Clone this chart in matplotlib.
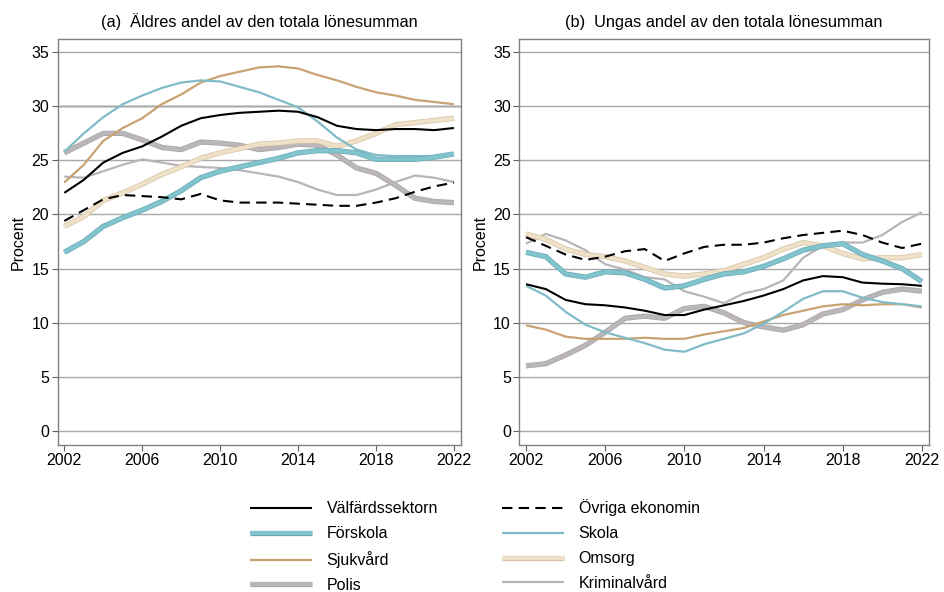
import numpy as np
import matplotlib
matplotlib.use("Agg")
import matplotlib.pyplot as plt
import matplotlib.patheffects as pe

plt.rcParams['font.family'] = ['Liberation Sans', 'DejaVu Sans']

years = list(range(2002, 2023))

# (a) older workers' share of total wage sum
a_valfard = [22.0, 23.2, 24.8, 25.7, 26.3, 27.2, 28.2, 28.9, 29.2, 29.4, 29.5,
             29.6, 29.5, 29.0, 28.2, 27.9, 27.8, 27.9, 27.9, 27.8, 28.0]
a_ovriga = [19.4, 20.4, 21.4, 21.8, 21.7, 21.6, 21.4, 21.9, 21.3, 21.1, 21.1,
            21.1, 21.0, 20.9, 20.8, 20.8, 21.1, 21.5, 22.1, 22.6, 22.95]
a_forskola = [16.5, 17.5, 18.9, 19.7, 20.4, 21.2, 22.2, 23.4, 24.0, 24.4, 24.8,
              25.2, 25.7, 25.9, 25.9, 25.7, 25.1, 25.1, 25.1, 25.3, 25.6]
a_skola = [25.8, 27.5, 29.0, 30.2, 31.0, 31.7, 32.2, 32.4, 32.3, 31.8, 31.3,
           30.6, 29.9, 28.6, 27.1, 26.0, 25.5, 25.4, 25.4, 25.4, 25.6]
a_sjukvard = [22.95, 24.6, 26.8, 28.0, 28.9, 30.2, 31.1, 32.2, 32.8, 33.2, 33.6,
              33.7, 33.5, 32.9, 32.4, 31.8, 31.3, 31.0, 30.6, 30.4, 30.2]
a_omsorg = [18.9, 19.8, 21.3, 22.0, 22.8, 23.7, 24.4, 25.2, 25.7, 26.1, 26.5,
            26.6, 26.8, 26.8, 26.3, 26.8, 27.5, 28.3, 28.5, 28.7, 28.9]
a_polis = [25.7, 26.6, 27.5, 27.5, 26.9, 26.2, 26.0, 26.7, 26.6, 26.4, 26.0,
           26.2, 26.5, 26.4, 25.5, 24.3, 23.8, 22.7, 21.5, 21.2, 21.1]
a_kriminal = [23.5, 23.4, 24.0, 24.6, 25.1, 24.8, 24.5, 24.4, 24.3, 24.1, 23.8,
              23.5, 23.0, 22.3, 21.8, 21.8, 22.3, 23.0, 23.6, 23.4, 23.0]

# (b) younger workers' share of total wage sum
b_valfard = [13.55, 13.1, 12.1, 11.7, 11.6, 11.4, 11.1, 10.7, 10.7, 11.2, 11.6,
             12.0, 12.5, 13.1, 13.9, 14.3, 14.2, 13.7, 13.6, 13.55, 13.4]
b_ovriga = [17.9, 17.1, 16.3, 15.8, 16.1, 16.6, 16.8, 15.7, 16.4, 17.0, 17.2,
            17.2, 17.4, 17.8, 18.1, 18.3, 18.5, 18.1, 17.4, 16.9, 17.3]
b_forskola = [16.5, 16.1, 14.5, 14.2, 14.7, 14.6, 14.0, 13.2, 13.4, 14.0, 14.5,
              14.7, 15.2, 15.9, 16.7, 17.1, 17.3, 16.3, 15.7, 15.0, 13.8]
b_skola = [13.4, 12.5, 11.0, 9.8, 9.1, 8.6, 8.1, 7.5, 7.3, 8.0, 8.5,
           9.0, 9.9, 11.0, 12.2, 12.9, 12.9, 12.3, 11.9, 11.7, 11.5]
b_sjukvard = [9.75, 9.35, 8.7, 8.5, 8.5, 8.5, 8.6, 8.5, 8.5, 8.9, 9.2,
              9.5, 10.1, 10.7, 11.1, 11.5, 11.7, 11.6, 11.7, 11.7, 11.4]
b_omsorg = [18.2, 17.7, 16.8, 16.3, 16.1, 15.7, 15.1, 14.5, 14.3, 14.5, 14.8,
            15.4, 16.0, 16.8, 17.4, 17.1, 16.4, 15.9, 16.0, 16.0, 16.3]
b_polis = [6.0, 6.2, 7.0, 7.9, 9.1, 10.4, 10.6, 10.4, 11.3, 11.5, 10.9,
           10.0, 9.6, 9.3, 9.8, 10.8, 11.2, 12.1, 12.8, 13.1, 12.9]
b_kriminal = [17.3, 18.2, 17.6, 16.7, 15.4, 14.9, 14.2, 14.0, 12.9, 12.4, 11.8,
              12.7, 13.1, 13.9, 16.0, 17.1, 17.4, 17.4, 18.1, 19.3, 20.2]

labels = ['Välfärdssektorn', 'Övriga ekonomin', 'Förskola', 'Skola',
          'Sjukvård', 'Omsorg', 'Polis', 'Kriminalvård']
titles = ['(a)  Äldres andel av den totala lönesumman',
          '(b)  Ungas andel av den totala lönesumman']

# color, linewidth, linestyle, edge color (None = plain line)
styles = [
    ('#000000', 1.5, '-', None),
    ('#000000', 1.5, (0, (5, 3)), None),
    ('#82c4cd', 2.8, '-', '#6aa9b3'),
    ('#80bcc7', 1.6, '-', None),
    ('#c9a272', 1.6, '-', None),
    ('#efe0c8', 2.8, '-', '#d6c3a6'),
    ('#bab6b9', 2.8, '-', '#a8a4a7'),
    ('#b9b4b8', 1.6, '-', None),
]

panels = [
    [a_valfard, a_ovriga, a_forskola, a_skola, a_sjukvard, a_omsorg, a_polis, a_kriminal],
    [b_valfard, b_ovriga, b_forskola, b_skola, b_sjukvard, b_omsorg, b_polis, b_kriminal],
]

fig = plt.figure(figsize=(9.44, 5.92), dpi=100)
ax1 = fig.add_axes([0.0611, 0.2483, 0.4272, 0.6853])
ax2 = fig.add_axes([0.5501, 0.2483, 0.4340, 0.6853])

handles = []
for ax, series, title in zip([ax1, ax2], panels, titles):
    ax.grid(axis='y', color='#a8a8a8', lw=1.0)
    ax.set_axisbelow(True)
    if ax is ax1:
        ax.axhline(30, color='#4a4a4a', lw=1.0, zorder=0.5)
    # draw order: greys first, black last
    hdict = {}
    for i in [6, 7, 5, 4, 3, 2, 1, 0]:
        col, lw, ls, edge = styles[i]
        kw = {}
        if edge is not None:
            kw['path_effects'] = [pe.Stroke(linewidth=lw + 1.0, foreground=edge), pe.Normal()]
        line, = ax.plot(years, series[i], color=col, lw=lw, ls=ls,
                        solid_capstyle='butt', label=labels[i], **kw)
        hdict[i] = line
    handles = [hdict[i] for i in range(8)]
    ax.set_xlim(2001.66, 2022.36)
    ax.set_ylim(-1.32, 36.2)
    ax.set_xticks(range(2002, 2023, 4))
    ax.set_yticks(range(0, 36, 5))
    ax.tick_params(labelsize=11.5, color='#606060', length=4, width=0.8, pad=2)
    for s in ax.spines.values():
        s.set_color('#808080')
        s.set_linewidth(1.0)
    ax.set_ylabel('Procent', fontsize=11.5, labelpad=4)
    ax.set_title(title, fontsize=11.8, pad=9)

order = [0, 2, 4, 6, 1, 3, 5, 7]
fig.legend([handles[i] for i in order], [labels[i] for i in order],
           ncol=2, loc='lower center', bbox_to_anchor=(0.503, -0.026),
           frameon=False, fontsize=11.5, handlelength=3.9, handletextpad=0.9,
           columnspacing=4.0, labelspacing=0.62)

fig.savefig('out.png', dpi=100)
